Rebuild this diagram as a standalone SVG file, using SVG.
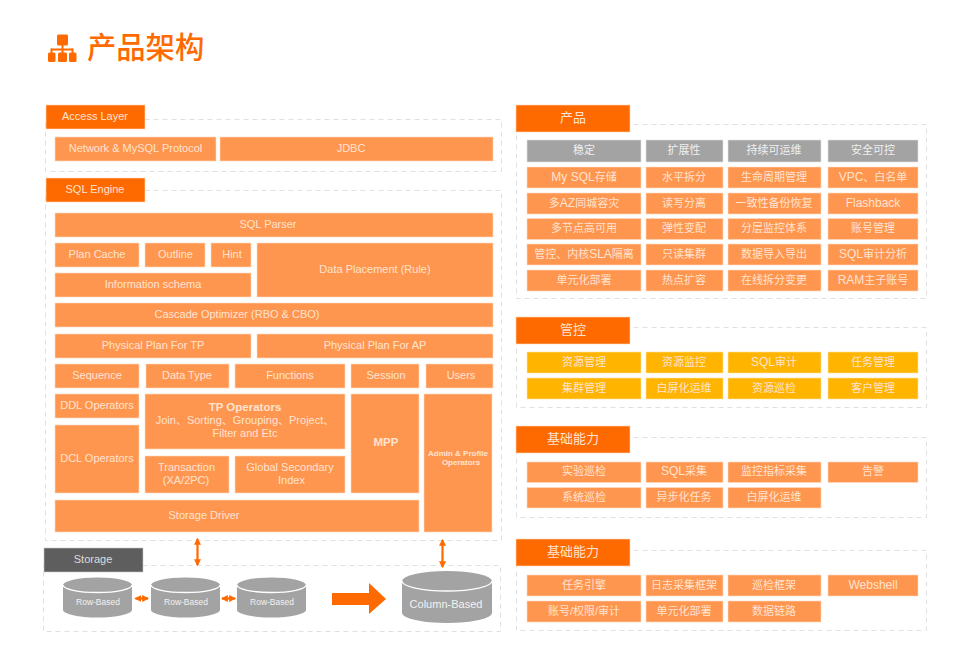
<svg xmlns="http://www.w3.org/2000/svg" width="964" height="666" viewBox="0 0 964 666">
<style>
text{font-family:"Liberation Sans","Noto Sans CJK SC",sans-serif;font-size:11px;fill:#ffe3d1;text-anchor:middle;dominant-baseline:central;transform:translateY(-.6px)}
.panel{fill:#fff;stroke:#e0e0e0;stroke-width:1;stroke-dasharray:5 4}
.head{fill:#ff6a00;stroke:#ffd9c0;stroke-width:.6}
.box{fill:#ff964f;stroke:#ffd9c0;stroke-width:.6}
.grey{fill:#a3a3a3;stroke:#e4e4e4;stroke-width:.6}
.gold{fill:#ffb400;stroke:#ffe3a0;stroke-width:.6}
.cyl{fill:#a3a3a3}
.rim{fill:none;stroke:#fff;stroke-width:1.3}
.link{fill:none;stroke:#ff6a00;stroke-width:2.2;marker-start:url(#tip);marker-end:url(#tip)}
.b{font-weight:bold;font-size:11.5px}
.s{font-size:8px}
.db{font-size:8.5px;fill:#f2f2f2}
.h{font-size:13px}
.l{font-size:12px}
.g{fill:#f2f2f2}
.title{font-size:29.300px;font-weight:500;fill:#ff6a00;text-anchor:start}
</style>
<defs>
<marker id="tip" viewBox="0 0 6 6" refX="5" refY="3" markerWidth="3.200" markerHeight="3.200" orient="auto-start-reverse"><path d="M0 0L6 3L0 6Z" fill="#ff6a00"/></marker>
</defs>

<g id="title">
<g fill="#ff6a00">
<rect x="57" y="34.500" width="11" height="11" rx="1.500"/>
<rect x="61.500" y="45" width="2" height="8"/>
<rect x="51" y="48.500" width="22" height="2"/>
<rect x="50.500" y="48.500" width="2" height="5"/>
<rect x="71.500" y="48.500" width="2" height="5"/>
<rect x="48" y="52.500" width="7.500" height="9.500" rx="1.500"/>
<rect x="58" y="52.500" width="9" height="9.500" rx="1.500"/>
<rect x="69" y="52.500" width="7.500" height="9.500" rx="1.500"/>
</g>
<text class="title" x="87" y="48.500">产品架构</text>
</g>

<g id="access-layer">
<rect class="panel" x="45.500" y="119.500" width="456" height="52"/>
<rect class="head" x="46" y="105" width="99" height="24"/><text x="95" y="116.500">Access Layer</text>
<rect class="box" x="55" y="137" width="161" height="24"/><text x="135.500" y="148.500">Network &amp; MySQL Protocol</text>
<rect class="box" x="220" y="137" width="273" height="24"/><text x="351" y="148.500">JDBC</text>
</g>

<g id="sql-engine">
<rect class="panel" x="45.500" y="190.500" width="456" height="350"/>
<rect class="head" x="46" y="178" width="99" height="24"/><text x="95" y="189.500">SQL Engine</text>
<rect class="box" x="55" y="213" width="438" height="24"/><text x="268" y="224.500">SQL Parser</text>
<rect class="box" x="55" y="243" width="84" height="24"/><text x="97" y="254.500">Plan Cache</text>
<rect class="box" x="145" y="243" width="60" height="24"/><text x="175.500" y="254.500">Outline</text>
<rect class="box" x="211" y="243" width="40" height="24"/><text x="232" y="254.500">Hint</text>
<rect class="box" x="55" y="273" width="196" height="24"/><text x="153" y="284.500">Information schema</text>
<rect class="box" x="257" y="243" width="236" height="54"/><text x="375" y="269.500">Data Placement (Rule)</text>
<rect class="box" x="55" y="303" width="438" height="24"/><text x="237" y="314.500">Cascade Optimizer (RBO &amp; CBO)</text>
<rect class="box" x="55" y="334" width="196" height="24"/><text x="153" y="345.500">Physical Plan For TP</text>
<rect class="box" x="257" y="334" width="236" height="24"/><text x="375" y="345.500">Physical Plan For AP</text>
<rect class="box" x="55" y="364" width="84" height="24"/><text x="97" y="375.500">Sequence</text>
<rect class="box" x="146" y="364" width="83" height="24"/><text x="187" y="375.500">Data Type</text>
<rect class="box" x="235" y="364" width="110" height="24"/><text x="290" y="375.500">Functions</text>
<rect class="box" x="351" y="364" width="68" height="24"/><text x="386" y="375.500">Session</text>
<rect class="box" x="426" y="364" width="67" height="24"/><text x="461" y="375.500">Users</text>
<rect class="box" x="55" y="394" width="84" height="24"/><text x="97" y="405.500">DDL Operators</text>
<rect class="box" x="55" y="425" width="84" height="68"/><text x="97" y="458.500">DCL Operators</text>
<rect class="box" x="145" y="394" width="200" height="55"/>
<text class="b" x="245" y="407.500">TP Operators</text><text x="245" y="420.500">Join、Sorting、Grouping、Project、</text><text x="245" y="433.500">Filter and Etc</text>
<rect class="box" x="145" y="456" width="84" height="37"/><text x="186.500" y="467.500">Transaction</text><text x="186" y="481">(XA/2PC)</text>
<rect class="box" x="235" y="456" width="110" height="37"/><text x="290" y="467.500">Global Secondary</text><text x="291.500" y="481">Index</text>
<rect class="box" x="351" y="394" width="68" height="99"/><text class="b" x="386" y="443">MPP</text>
<rect class="box" x="424" y="394" width="68" height="138"/><text class="s b" style="font-size:8px" x="458" y="454">Admin &amp; Profile</text><text class="s b" style="font-size:8px" x="461" y="463.500">Operators</text>
<rect class="box" x="55" y="500" width="364" height="32"/><text x="204" y="515.500">Storage Driver</text>
</g>

<g id="storage">
<rect class="panel" x="43.500" y="565.500" width="457" height="66"/>
<rect x="44" y="548" width="99" height="24" fill="#5e5e5e" stroke="#c8c8c8" stroke-width=".6"/><text class="g" x="93" y="559.500" style="fill:#dcdcdc">Storage</text>
</g>

<g id="row-store-1">
<path class="cyl" d="M63 585a34.500 7.500 0 0 1 69 0v25a34.500 7.500 0 0 1-69 0z"/><path class="rim" d="M63 585a34.500 7.500 0 0 0 69 0"/><text class="db" x="98" y="603">Row-Based</text>
</g>
<g id="row-store-2">
<path class="cyl" d="M151 585a34.500 7.500 0 0 1 69 0v25a34.500 7.500 0 0 1-69 0z"/><path class="rim" d="M151 585a34.500 7.500 0 0 0 69 0"/><text class="db" x="186" y="603">Row-Based</text>
</g>
<g id="row-store-3">
<path class="cyl" d="M237 585a34.500 7.500 0 0 1 69 0v25a34.500 7.500 0 0 1-69 0z"/><path class="rim" d="M237 585a34.500 7.500 0 0 0 69 0"/><text class="db" x="272" y="603">Row-Based</text>
</g>
<g id="column-store">
<path class="cyl" d="M402 581a45 10 0 0 1 90 0v32a45 10 0 0 1-90 0z"/><path class="rim" d="M402 581a45 10 0 0 0 90 0"/><text class="g" x="446" y="604.500" style="fill:#f2f2f2">Column-Based</text>
</g>

<g id="connectors">
<path class="link" d="M197.500 539V565"/>
<path class="link" d="M442.500 540V567"/>
<path class="link" d="M135.500 598.500H148"/>
<path class="link" d="M222 598.500H235"/>
<path d="M332 593H369V583L386 599L369 614V605H332Z" fill="#ff6a00"/>
</g>

<g id="product">
<rect class="panel" x="516.500" y="124.500" width="410" height="174"/>
<rect class="head" x="516" y="105" width="114" height="27"/><text class="h" x="573" y="118">产品</text>
<rect class="grey" x="527" y="140" width="114" height="22"/><text class="g" style="fill:#f0f0f0" x="584" y="151">稳定</text>
<rect class="grey" x="646" y="140" width="77" height="22"/><text style="fill:#f0f0f0" x="684" y="151">扩展性</text>
<rect class="grey" x="728" y="140" width="93" height="22"/><text style="fill:#f0f0f0" x="774" y="151">持续可运维</text>
<rect class="grey" x="828" y="140" width="90" height="22"/><text style="fill:#f0f0f0" x="873" y="151">安全可控</text>
<rect class="box" x="527" y="167" width="114" height="21"/><text x="584" y="177.500"><tspan class="l">My SQL</tspan>存储</text>
<rect class="box" x="646" y="167" width="77" height="21"/><text x="684" y="177.500">水平拆分</text>
<rect class="box" x="728" y="167" width="93" height="21"/><text x="774" y="177.500">生命周期管理</text>
<rect class="box" x="828" y="167" width="90" height="21"/><text x="873" y="177.500"><tspan class="l">VPC</tspan>、白名单</text>
<rect class="box" x="527" y="193" width="114" height="21"/><text x="584" y="203.500">多<tspan class="l">AZ</tspan>同城容灾</text>
<rect class="box" x="646" y="193" width="77" height="21"/><text x="684" y="203.500">读写分离</text>
<rect class="box" x="728" y="193" width="93" height="21"/><text x="774" y="203.500">一致性备份恢复</text>
<rect class="box" x="828" y="193" width="90" height="21"/><text class="l" x="873" y="203.500">Flashback</text>
<rect class="box" x="527" y="218.500" width="114" height="21"/><text x="584" y="229">多节点高可用</text>
<rect class="box" x="646" y="218.500" width="77" height="21"/><text x="684" y="229">弹性变配</text>
<rect class="box" x="728" y="218.500" width="93" height="21"/><text x="774" y="229">分层监控体系</text>
<rect class="box" x="828" y="218.500" width="90" height="21"/><text x="873" y="229">账号管理</text>
<rect class="box" x="527" y="244" width="114" height="21"/><text x="584" y="254.500">管控、内核<tspan class="l">SLA</tspan>隔离</text>
<rect class="box" x="646" y="244" width="77" height="21"/><text x="684" y="254.500">只读集群</text>
<rect class="box" x="728" y="244" width="93" height="21"/><text x="774" y="254.500">数据导入导出</text>
<rect class="box" x="828" y="244" width="90" height="21"/><text x="873" y="254.500"><tspan class="l">SQL</tspan>审计分析</text>
<rect class="box" x="527" y="270" width="114" height="21"/><text x="584" y="280.500">单元化部署</text>
<rect class="box" x="646" y="270" width="77" height="21"/><text x="684" y="280.500">热点扩容</text>
<rect class="box" x="728" y="270" width="93" height="21"/><text x="774" y="280.500">在线拆分变更</text>
<rect class="box" x="828" y="270" width="90" height="21"/><text x="873" y="280.500"><tspan class="l">RAM</tspan>主子账号</text>
</g>

<g id="control">
<rect class="panel" x="516.500" y="327.500" width="410" height="80"/>
<rect class="head" x="516" y="317" width="114" height="27"/><text class="h" x="573" y="330">管控</text>
<rect class="gold" x="527" y="352" width="114" height="21"/><text x="584" y="362.500">资源管理</text>
<rect class="gold" x="646" y="352" width="77" height="21"/><text x="684" y="362.500">资源监控</text>
<rect class="gold" x="728" y="352" width="93" height="21"/><text x="774" y="362.500"><tspan class="l">SQL</tspan>审计</text>
<rect class="gold" x="828" y="352" width="90" height="21"/><text x="873" y="362.500">任务管理</text>
<rect class="gold" x="527" y="378" width="114" height="21"/><text x="584" y="388.500">集群管理</text>
<rect class="gold" x="646" y="378" width="77" height="21"/><text x="684" y="388.500">白屏化运维</text>
<rect class="gold" x="728" y="378" width="93" height="21"/><text x="774" y="388.500">资源巡检</text>
<rect class="gold" x="828" y="378" width="90" height="21"/><text x="873" y="388.500">客户管理</text>
</g>

<g id="foundation-a">
<rect class="panel" x="516.500" y="437.500" width="410" height="80"/>
<rect class="head" x="516" y="426" width="114" height="27"/><text class="h" x="573" y="439">基础能力</text>
<rect class="box" x="527" y="462" width="114" height="20.500"/><text x="584" y="472">实验巡检</text>
<rect class="box" x="646" y="462" width="77" height="20.500"/><text x="684" y="472"><tspan class="l">SQL</tspan>采集</text>
<rect class="box" x="728" y="462" width="93" height="20.500"/><text x="774" y="472">监控指标采集</text>
<rect class="box" x="828" y="462" width="90" height="20.500"/><text x="873" y="472">告警</text>
<rect class="box" x="527" y="487.500" width="114" height="20.500"/><text x="584" y="497.500">系统巡检</text>
<rect class="box" x="646" y="487.500" width="77" height="20.500"/><text x="684" y="497.500">异步化任务</text>
<rect class="box" x="728" y="487.500" width="93" height="20.500"/><text x="774" y="497.500">白屏化运维</text>
</g>

<g id="foundation-b">
<rect class="panel" x="516.500" y="550.500" width="410" height="80"/>
<rect class="head" x="516" y="539" width="114" height="27"/><text class="h" x="573" y="552">基础能力</text>
<rect class="box" x="527" y="575" width="114" height="21"/><text x="584" y="585.500">任务引擎</text>
<rect class="box" x="646" y="575" width="77" height="21"/><text x="684" y="585.500">日志采集框架</text>
<rect class="box" x="728" y="575" width="93" height="21"/><text x="774" y="585.500">巡检框架</text>
<rect class="box" x="828" y="575" width="90" height="21"/><text class="l" x="873" y="585.500">Webshell</text>
<rect class="box" x="527" y="601" width="114" height="21"/><text x="584" y="611.500">账号/权限/审计</text>
<rect class="box" x="646" y="601" width="77" height="21"/><text x="684" y="611.500">单元化部署</text>
<rect class="box" x="728" y="601" width="93" height="21"/><text x="774" y="611.500">数据链路</text>
</g>
</svg>
